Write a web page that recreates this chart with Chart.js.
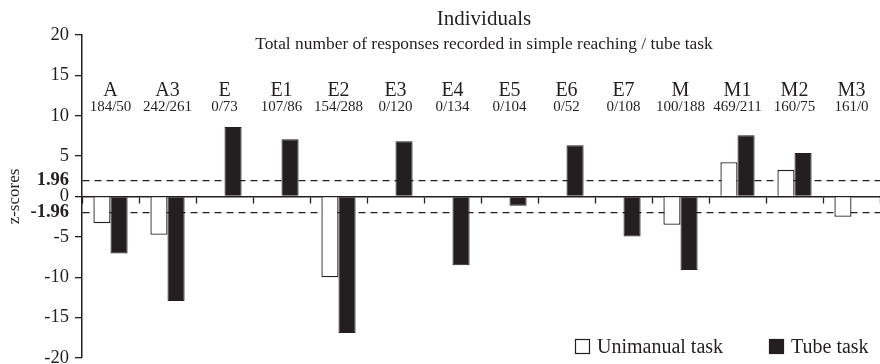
<!DOCTYPE html>
<html lang="en">
<head>
  <meta charset="UTF-8">
  <title>Individuals</title>
  <script src="https://cdn.jsdelivr.net/npm/chart.js"></script>
  <style>
    body { margin: 0; background: #fff; }
    .wrap { width: 880px; height: 364px; position: relative; }
  </style>
</head>
<body>
  <div class="wrap">
    <canvas id="zChart"></canvas>
  </div>

  <script>
    // individuals and their response counts (simple reaching / tube task)
    const individuals = ['A', 'A3', 'E', 'E1', 'E2', 'E3', 'E4', 'E5', 'E6', 'E7', 'M', 'M1', 'M2', 'M3'];
    const responseCounts = ['184/50', '242/261', '0/73', '107/86', '154/288', '0/120', '0/134',
                            '0/104', '0/52', '0/108', '100/188', '469/211', '160/75', '161/0'];

    // z-scores
    const unimanualScores = [-3.3, -4.75, null, null, -10.0, null, null, null, null, null, -3.5, 4.25, 3.3, -2.5];
    const tubeScores = [-7.05, -12.95, 8.6, 7.1, -16.9, 6.85, -8.5, -1.15, 6.35, -4.95, -9.1, 7.6, 5.4, null];

    const yTickValues = [-20, -15, -10, -5, -1.96, 0, 1.96, 5, 10, 15, 20];
    const criticalZ = 1.96;

    const serif = '"Liberation Serif", "DejaVu Serif", serif';
    const ink = '#231f20';

    const isCritical = v => Math.abs(Math.abs(v) - criticalZ) < 1e-6;

    // titles, group labels and legend drawn over the plot
    const annotations = {
      id: 'annotations',
      afterDraw(chart) {
        const { ctx, chartArea, scales } = chart;
        const cx = (chartArea.left + chartArea.right) / 2 + 3;
        ctx.save();
        ctx.fillStyle = ink;
        ctx.textAlign = 'center';
        ctx.textBaseline = 'alphabetic';

        ctx.font = `21px ${serif}`;
        ctx.fillText('Individuals', cx, 25);
        ctx.font = `17.4px ${serif}`;
        ctx.fillText('Total number of responses recorded in simple reaching / tube task', cx, 49);

        individuals.forEach((name, i) => {
          const x = scales.x.getPixelForValue(i);
          ctx.font = `20px ${serif}`;
          ctx.fillText(name, x, 96);
          ctx.font = `15px ${serif}`;
          ctx.fillText(responseCounts[i], x, 111);
        });

        // legend
        const items = [
          { label: 'Unimanual task', fill: '#fff', x: 575 },
          { label: 'Tube task', fill: ink, x: 769 }
        ];
        ctx.textAlign = 'left';
        ctx.font = `20px ${serif}`;
        items.forEach(item => {
          ctx.fillStyle = item.fill;
          ctx.fillRect(item.x + 0.5, 339.5, 14, 14);
          ctx.strokeStyle = ink;
          ctx.lineWidth = 1.2;
          ctx.strokeRect(item.x + 0.5, 339.5, 14, 14);
          ctx.fillStyle = ink;
          ctx.fillText(item.label, item.x + 22, 353);
        });
        ctx.restore();
      }
    };

    new Chart(document.getElementById('zChart'), {
      type: 'bar',
      data: {
        labels: individuals,
        datasets: [
          {
            label: 'Unimanual task',
            data: unimanualScores,
            backgroundColor: '#ffffff',
            borderColor: ink,
            borderWidth: 1.3
          },
          {
            label: 'Tube task',
            data: tubeScores,
            backgroundColor: ink,
            borderColor: ink,
            borderWidth: 1
          }
        ]
      },
      options: {
        responsive: true,
        maintainAspectRatio: false,
        animation: false,
        layout: { padding: { top: 35, bottom: 6, right: 0, left: 0 } },
        datasets: { bar: { categoryPercentage: 0.6, barPercentage: 1.0 } },
        plugins: {
          legend: { display: false },
          tooltip: { enabled: false }
        },
        scales: {
          x: {
            type: 'category',
            position: { y: 0 },
            offset: true,
            afterFit: scale => { scale.height = 0; },
            grid: {
              offset: true,
              drawOnChartArea: false,
              drawTicks: true,
              tickLength: 6,
              tickColor: ink,
              tickWidth: 1.3
            },
            border: { display: true, color: ink, width: 1.5 },
            ticks: { display: false }
          },
          y: {
            min: -20,
            max: 20,
            afterBuildTicks: scale => {
              scale.ticks = yTickValues.map(v => ({ value: v }));
            },
            afterFit: scale => {
              scale.width = 82;
              scale.paddingTop = 0;
              scale.paddingBottom = 0;
            },
            grid: {
              drawOnChartArea: true,
              drawTicks: true,
              tickLength: 7,
              color: c => (c.tick && isCritical(c.tick.value)) ? ink : 'rgba(0,0,0,0)',
              lineWidth: 1.3,
              tickColor: c => (c.tick && isCritical(c.tick.value)) ? 'rgba(0,0,0,0)' : ink,
              tickWidth: 1.3
            },
            border: { display: true, color: ink, width: 1.5, dash: [7, 5] },
            ticks: {
              autoSkip: false,
              padding: 6,
              color: ink,
              callback: v => String(v),
              font: c => ({
                family: serif,
                size: 18.5,
                weight: (c.tick && isCritical(c.tick.value)) ? 'bold' : 'normal'
              })
            },
            title: {
              display: true,
              text: 'z-scores',
              color: ink,
              font: { family: serif, size: 17 },
              padding: { top: 4, bottom: 0 }
            }
          }
        }
      },
      plugins: [annotations]
    });
  </script>
</body>
</html>
